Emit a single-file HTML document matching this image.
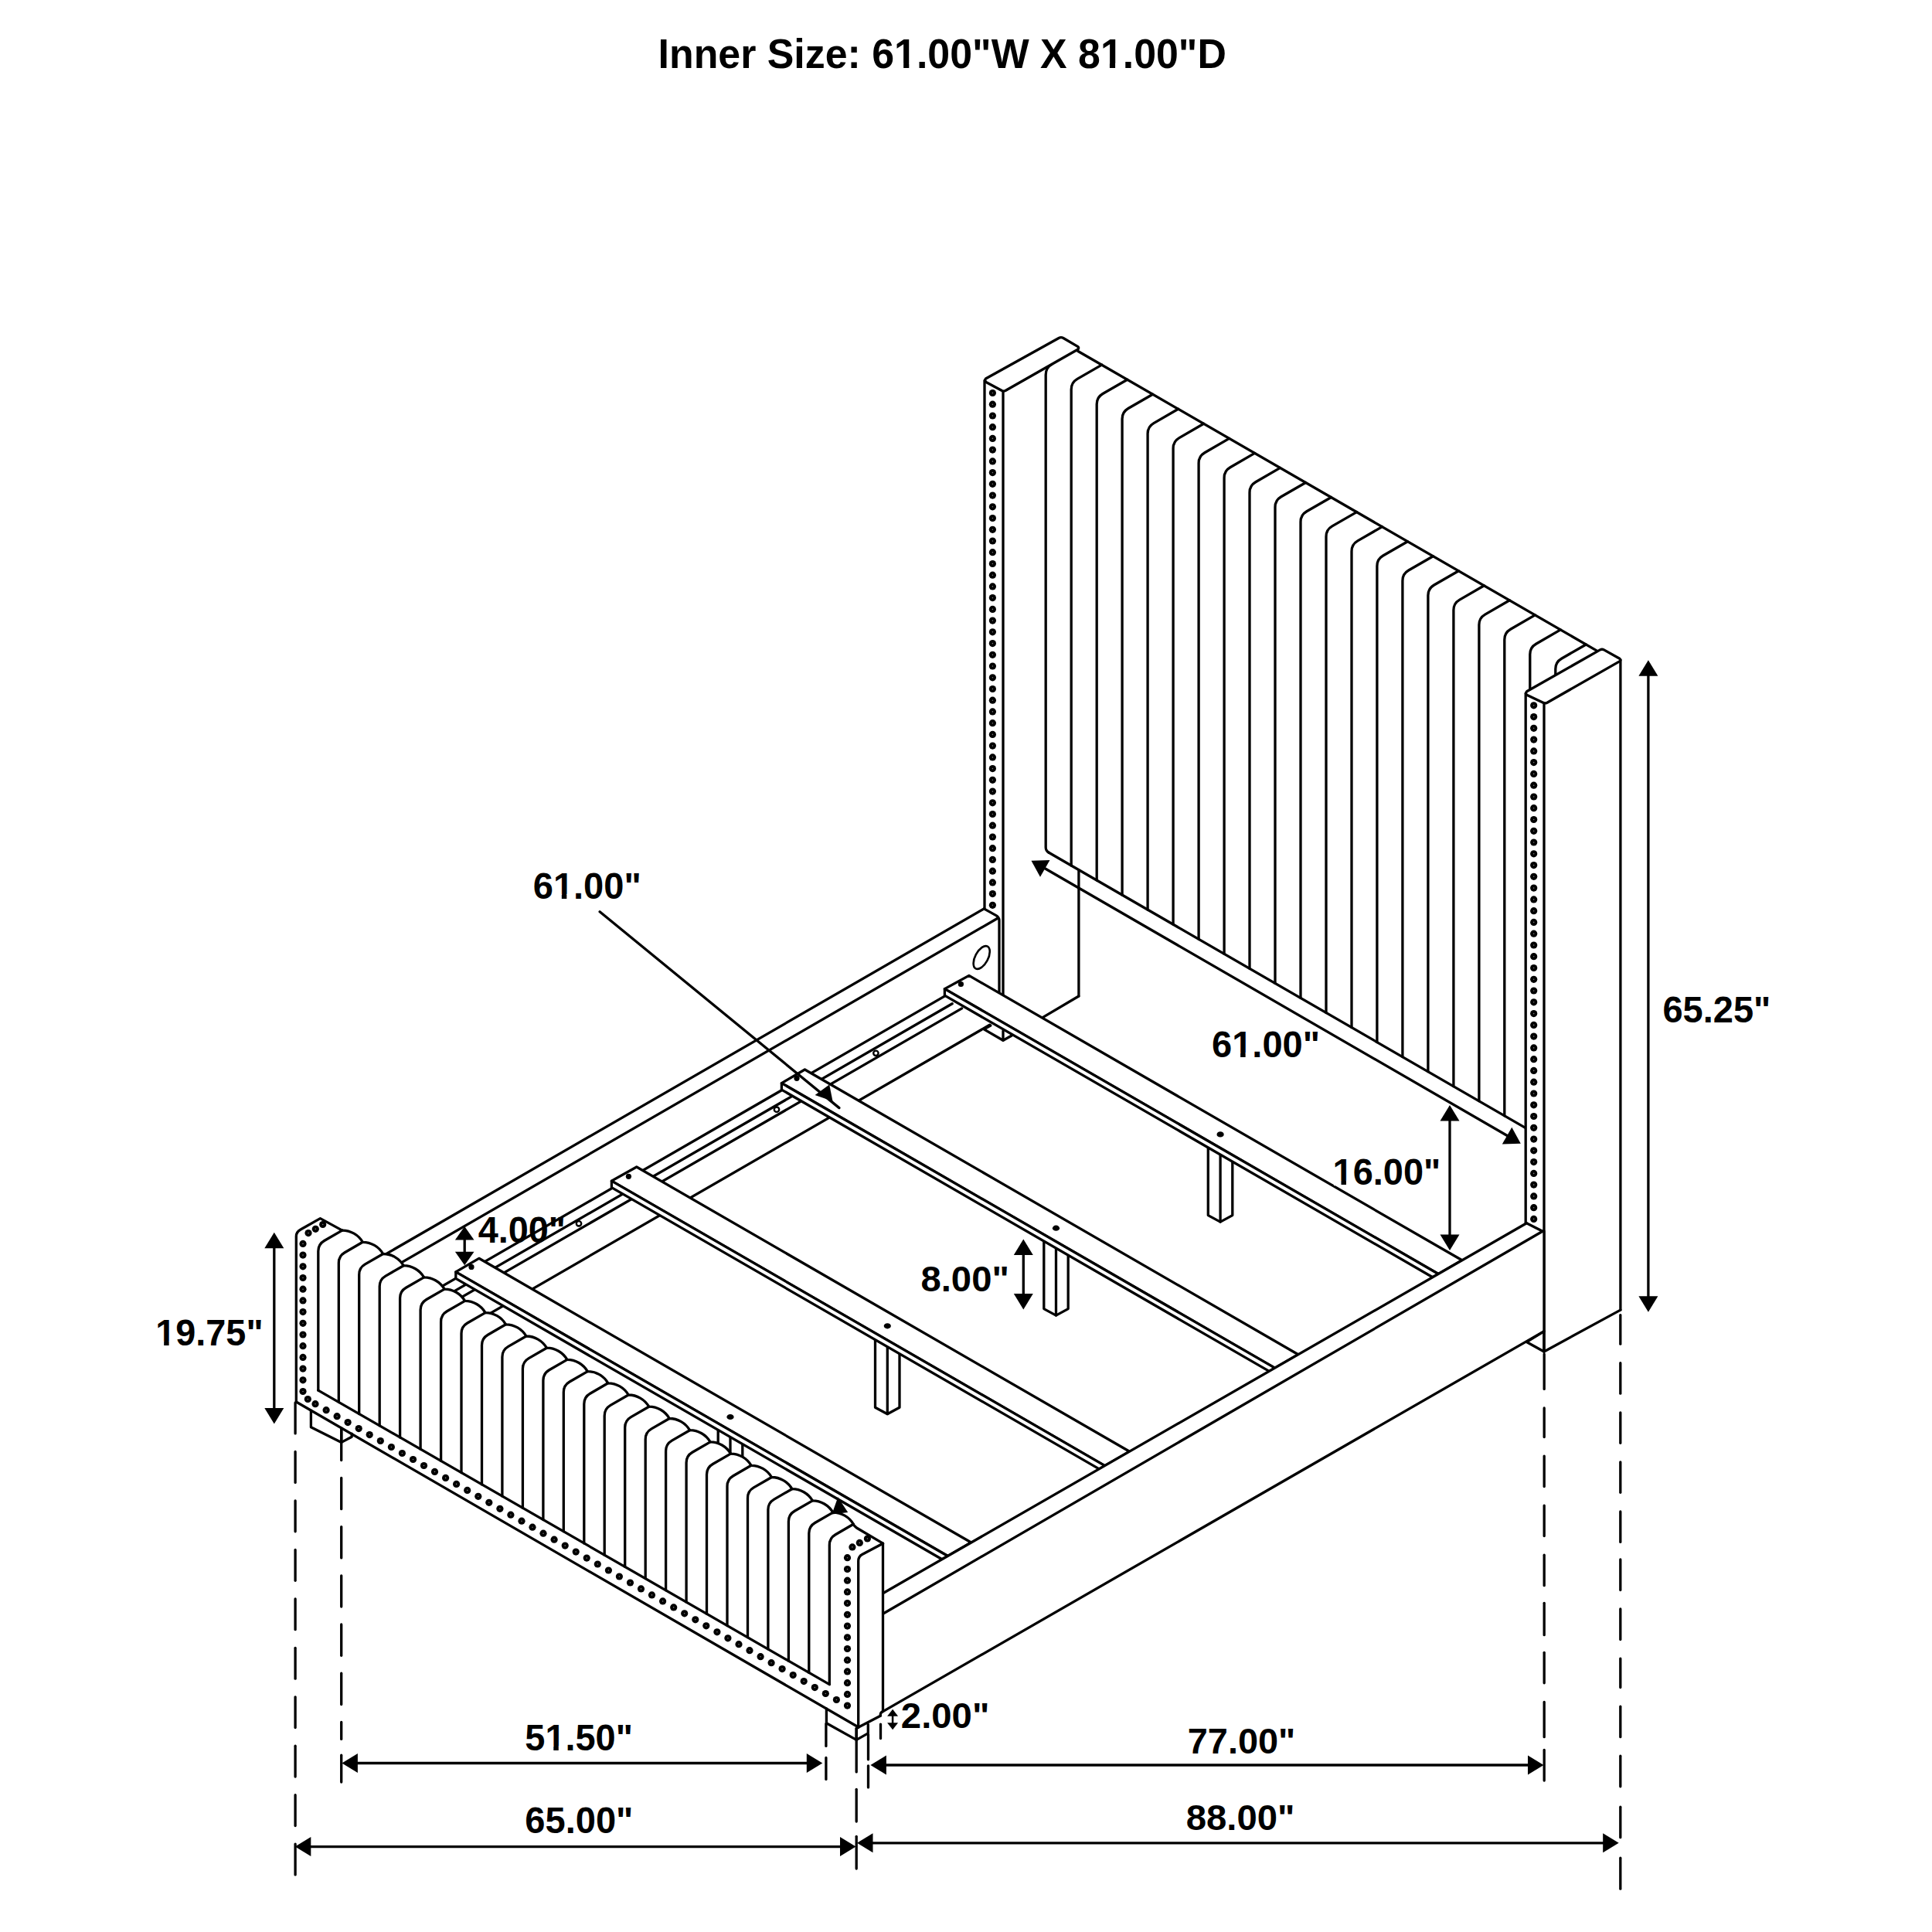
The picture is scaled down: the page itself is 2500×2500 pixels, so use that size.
<!DOCTYPE html>
<html><head><meta charset="utf-8"><style>
html,body{margin:0;padding:0;background:#fff;}
svg{display:block;}
text{font-family:"Liberation Sans",sans-serif;font-weight:bold;fill:#000;}
</style></head><body>
<svg xmlns="http://www.w3.org/2000/svg" width="2500" height="2500" viewBox="0 0 2500 2500">
<rect width="2500" height="2500" fill="#fff"/>
<g fill="none" stroke="#000" stroke-width="3.3" stroke-linecap="round" stroke-linejoin="round">
<path d="M1357.2,1103.3 Q1353.2,1101 1353.2,1096.5 V484.9 Q1353.2,475.9 1361,471.4" fill="none"/>
<path d="M1386.2,1120 V503.9 Q1386.2,494.9 1394,490.4 L1425.7,472.1" fill="none"/>
<path d="M1419.2,1139.1 V523 Q1419.2,514 1427,509.5 L1458.7,491.2" fill="none"/>
<path d="M1452.1,1158.1 V542 Q1452.1,533 1459.9,528.5 L1491.6,510.2" fill="none"/>
<path d="M1485.1,1177.2 V561.1 Q1485.1,552.1 1492.9,547.6 L1524.6,529.3" fill="none"/>
<path d="M1518.1,1196.2 V580.1 Q1518.1,571.1 1525.9,566.6 L1557.6,548.3" fill="none"/>
<path d="M1551.1,1215.3 V599.2 Q1551.1,590.2 1558.9,585.7 L1590.6,567.4" fill="none"/>
<path d="M1584.1,1234.3 V618.2 Q1584.1,609.2 1591.9,604.7 L1623.6,586.4" fill="none"/>
<path d="M1617,1253.3 V637.2 Q1617,628.2 1624.8,623.7 L1656.5,605.4" fill="none"/>
<path d="M1650,1272.4 V656.3 Q1650,647.3 1657.8,642.8 L1689.5,624.5" fill="none"/>
<path d="M1683,1291.4 V675.3 Q1683,666.3 1690.8,661.8 L1722.5,643.5" fill="none"/>
<path d="M1716,1310.5 V694.4 Q1716,685.4 1723.8,680.9 L1755.5,662.6" fill="none"/>
<path d="M1749,1329.5 V713.4 Q1749,704.4 1756.8,699.9 L1788.5,681.6" fill="none"/>
<path d="M1781.9,1348.6 V732.5 Q1781.9,723.5 1789.7,719 L1821.4,700.7" fill="none"/>
<path d="M1814.9,1367.6 V751.5 Q1814.9,742.5 1822.7,738 L1854.4,719.7" fill="none"/>
<path d="M1847.9,1386.6 V770.5 Q1847.9,761.5 1855.7,757 L1887.4,738.7" fill="none"/>
<path d="M1880.9,1405.7 V789.6 Q1880.9,780.6 1888.7,776.1 L1920.4,757.8" fill="none"/>
<path d="M1913.9,1424.7 V808.6 Q1913.9,799.6 1921.7,795.1 L1953.4,776.8" fill="none"/>
<path d="M1946.8,1443.8 V827.7 Q1946.8,818.7 1954.6,814.2 L1986.3,795.9" fill="none"/>
<path d="M1979.8,1462.8 V846.7 Q1979.8,837.7 1987.6,833.2 L2019.3,814.9" fill="none"/>
<path d="M2012.8,1481.9 V865.7 Q2012.8,856.7 2020.6,852.2 L2052.3,834" fill="none"/>
<line x1="1394.6" y1="454.2" x2="2066" y2="841.9"/>
<line x1="1357.2" y1="1103.3" x2="1974.2" y2="1459.6"/>
<line x1="1298" y1="506.4" x2="1298" y2="1287"/>
<line x1="1395.9" y1="1125.7" x2="1395.9" y2="1289"/>
<line x1="1395.9" y1="1289" x2="1349.6" y2="1316.4"/>
<path d="M1275.5,490 L1370,437.5 Q1373,435.8 1376,437.5 L1394.5,448.3 Q1396.5,449.8 1395,452 L1301,505.5 Q1298.8,506.6 1296.5,505.5 L1276,494.5 Q1273.5,492.3 1275.5,490 Z" fill="#fff"/>
<line x1="1274" y1="492.5" x2="1274" y2="1176"/>
<circle cx="1284.4" cy="508.5" r="4.6" fill="#000" stroke="none"/>
<circle cx="1284.4" cy="508.5" r="0.8" fill="#777" stroke="none"/>
<circle cx="1284.4" cy="523.2" r="4.6" fill="#000" stroke="none"/>
<circle cx="1284.4" cy="523.2" r="0.8" fill="#777" stroke="none"/>
<circle cx="1284.4" cy="538" r="4.6" fill="#000" stroke="none"/>
<circle cx="1284.4" cy="538" r="0.8" fill="#777" stroke="none"/>
<circle cx="1284.4" cy="552.7" r="4.6" fill="#000" stroke="none"/>
<circle cx="1284.4" cy="552.7" r="0.8" fill="#777" stroke="none"/>
<circle cx="1284.4" cy="567.4" r="4.6" fill="#000" stroke="none"/>
<circle cx="1284.4" cy="567.4" r="0.8" fill="#777" stroke="none"/>
<circle cx="1284.4" cy="582.1" r="4.6" fill="#000" stroke="none"/>
<circle cx="1284.4" cy="582.1" r="0.8" fill="#777" stroke="none"/>
<circle cx="1284.4" cy="596.9" r="4.6" fill="#000" stroke="none"/>
<circle cx="1284.4" cy="596.9" r="0.8" fill="#777" stroke="none"/>
<circle cx="1284.4" cy="611.6" r="4.6" fill="#000" stroke="none"/>
<circle cx="1284.4" cy="611.6" r="0.8" fill="#777" stroke="none"/>
<circle cx="1284.4" cy="626.3" r="4.6" fill="#000" stroke="none"/>
<circle cx="1284.4" cy="626.3" r="0.8" fill="#777" stroke="none"/>
<circle cx="1284.4" cy="641.1" r="4.6" fill="#000" stroke="none"/>
<circle cx="1284.4" cy="641.1" r="0.8" fill="#777" stroke="none"/>
<circle cx="1284.4" cy="655.8" r="4.6" fill="#000" stroke="none"/>
<circle cx="1284.4" cy="655.8" r="0.8" fill="#777" stroke="none"/>
<circle cx="1284.4" cy="670.5" r="4.6" fill="#000" stroke="none"/>
<circle cx="1284.4" cy="670.5" r="0.8" fill="#777" stroke="none"/>
<circle cx="1284.4" cy="685.3" r="4.6" fill="#000" stroke="none"/>
<circle cx="1284.4" cy="685.3" r="0.8" fill="#777" stroke="none"/>
<circle cx="1284.4" cy="700" r="4.6" fill="#000" stroke="none"/>
<circle cx="1284.4" cy="700" r="0.8" fill="#777" stroke="none"/>
<circle cx="1284.4" cy="714.7" r="4.6" fill="#000" stroke="none"/>
<circle cx="1284.4" cy="714.7" r="0.8" fill="#777" stroke="none"/>
<circle cx="1284.4" cy="729.5" r="4.6" fill="#000" stroke="none"/>
<circle cx="1284.4" cy="729.5" r="0.8" fill="#777" stroke="none"/>
<circle cx="1284.4" cy="744.2" r="4.6" fill="#000" stroke="none"/>
<circle cx="1284.4" cy="744.2" r="0.8" fill="#777" stroke="none"/>
<circle cx="1284.4" cy="758.9" r="4.6" fill="#000" stroke="none"/>
<circle cx="1284.4" cy="758.9" r="0.8" fill="#777" stroke="none"/>
<circle cx="1284.4" cy="773.6" r="4.6" fill="#000" stroke="none"/>
<circle cx="1284.4" cy="773.6" r="0.8" fill="#777" stroke="none"/>
<circle cx="1284.4" cy="788.4" r="4.6" fill="#000" stroke="none"/>
<circle cx="1284.4" cy="788.4" r="0.8" fill="#777" stroke="none"/>
<circle cx="1284.4" cy="803.1" r="4.6" fill="#000" stroke="none"/>
<circle cx="1284.4" cy="803.1" r="0.8" fill="#777" stroke="none"/>
<circle cx="1284.4" cy="817.8" r="4.6" fill="#000" stroke="none"/>
<circle cx="1284.4" cy="817.8" r="0.8" fill="#777" stroke="none"/>
<circle cx="1284.4" cy="832.6" r="4.6" fill="#000" stroke="none"/>
<circle cx="1284.4" cy="832.6" r="0.8" fill="#777" stroke="none"/>
<circle cx="1284.4" cy="847.3" r="4.6" fill="#000" stroke="none"/>
<circle cx="1284.4" cy="847.3" r="0.8" fill="#777" stroke="none"/>
<circle cx="1284.4" cy="862" r="4.6" fill="#000" stroke="none"/>
<circle cx="1284.4" cy="862" r="0.8" fill="#777" stroke="none"/>
<circle cx="1284.4" cy="876.8" r="4.6" fill="#000" stroke="none"/>
<circle cx="1284.4" cy="876.8" r="0.8" fill="#777" stroke="none"/>
<circle cx="1284.4" cy="891.5" r="4.6" fill="#000" stroke="none"/>
<circle cx="1284.4" cy="891.5" r="0.8" fill="#777" stroke="none"/>
<circle cx="1284.4" cy="906.2" r="4.6" fill="#000" stroke="none"/>
<circle cx="1284.4" cy="906.2" r="0.8" fill="#777" stroke="none"/>
<circle cx="1284.4" cy="920.9" r="4.6" fill="#000" stroke="none"/>
<circle cx="1284.4" cy="920.9" r="0.8" fill="#777" stroke="none"/>
<circle cx="1284.4" cy="935.7" r="4.6" fill="#000" stroke="none"/>
<circle cx="1284.4" cy="935.7" r="0.8" fill="#777" stroke="none"/>
<circle cx="1284.4" cy="950.4" r="4.6" fill="#000" stroke="none"/>
<circle cx="1284.4" cy="950.4" r="0.8" fill="#777" stroke="none"/>
<circle cx="1284.4" cy="965.1" r="4.6" fill="#000" stroke="none"/>
<circle cx="1284.4" cy="965.1" r="0.8" fill="#777" stroke="none"/>
<circle cx="1284.4" cy="979.9" r="4.6" fill="#000" stroke="none"/>
<circle cx="1284.4" cy="979.9" r="0.8" fill="#777" stroke="none"/>
<circle cx="1284.4" cy="994.6" r="4.6" fill="#000" stroke="none"/>
<circle cx="1284.4" cy="994.6" r="0.8" fill="#777" stroke="none"/>
<circle cx="1284.4" cy="1009.3" r="4.6" fill="#000" stroke="none"/>
<circle cx="1284.4" cy="1009.3" r="0.8" fill="#777" stroke="none"/>
<circle cx="1284.4" cy="1024.1" r="4.6" fill="#000" stroke="none"/>
<circle cx="1284.4" cy="1024.1" r="0.8" fill="#777" stroke="none"/>
<circle cx="1284.4" cy="1038.8" r="4.6" fill="#000" stroke="none"/>
<circle cx="1284.4" cy="1038.8" r="0.8" fill="#777" stroke="none"/>
<circle cx="1284.4" cy="1053.5" r="4.6" fill="#000" stroke="none"/>
<circle cx="1284.4" cy="1053.5" r="0.8" fill="#777" stroke="none"/>
<circle cx="1284.4" cy="1068.2" r="4.6" fill="#000" stroke="none"/>
<circle cx="1284.4" cy="1068.2" r="0.8" fill="#777" stroke="none"/>
<circle cx="1284.4" cy="1083" r="4.6" fill="#000" stroke="none"/>
<circle cx="1284.4" cy="1083" r="0.8" fill="#777" stroke="none"/>
<circle cx="1284.4" cy="1097.7" r="4.6" fill="#000" stroke="none"/>
<circle cx="1284.4" cy="1097.7" r="0.8" fill="#777" stroke="none"/>
<circle cx="1284.4" cy="1112.4" r="4.6" fill="#000" stroke="none"/>
<circle cx="1284.4" cy="1112.4" r="0.8" fill="#777" stroke="none"/>
<circle cx="1284.4" cy="1127.2" r="4.6" fill="#000" stroke="none"/>
<circle cx="1284.4" cy="1127.2" r="0.8" fill="#777" stroke="none"/>
<circle cx="1284.4" cy="1141.9" r="4.6" fill="#000" stroke="none"/>
<circle cx="1284.4" cy="1141.9" r="0.8" fill="#777" stroke="none"/>
<circle cx="1284.4" cy="1156.6" r="4.6" fill="#000" stroke="none"/>
<circle cx="1284.4" cy="1156.6" r="0.8" fill="#777" stroke="none"/>
<circle cx="1284.4" cy="1171.3" r="4.6" fill="#000" stroke="none"/>
<circle cx="1284.4" cy="1171.3" r="0.8" fill="#777" stroke="none"/>
<polygon points="1974.2,897.3 1999.4,909.7 2096.9,853.8 2096.9,1695.1 1998,1749 1974.2,1737" fill="#fff" stroke="none"/>
<line x1="1974.2" y1="897.3" x2="1974.2" y2="1582.8"/>
<line x1="1998" y1="909.7" x2="1998" y2="1749"/>
<line x1="2096.9" y1="853.8" x2="2096.9" y2="1695.1"/>
<line x1="2096.9" y1="1695.1" x2="1998" y2="1749"/>
<path d="M1975.6,894.8 L2070.5,840.9 Q2073,839.6 2075.5,840.9 L2095.8,852.2 Q2098,854 2096,855.6 L2002,909.3 Q1999.4,910.6 1996.8,909.3 L1975.7,899.3 Q1973.4,897 1975.6,894.8 Z" fill="#fff"/>
<circle cx="1984.7" cy="912.8" r="4.6" fill="#000" stroke="none"/>
<circle cx="1984.7" cy="912.8" r="0.8" fill="#777" stroke="none"/>
<circle cx="1984.7" cy="927.6" r="4.6" fill="#000" stroke="none"/>
<circle cx="1984.7" cy="927.6" r="0.8" fill="#777" stroke="none"/>
<circle cx="1984.7" cy="942.3" r="4.6" fill="#000" stroke="none"/>
<circle cx="1984.7" cy="942.3" r="0.8" fill="#777" stroke="none"/>
<circle cx="1984.7" cy="957.1" r="4.6" fill="#000" stroke="none"/>
<circle cx="1984.7" cy="957.1" r="0.8" fill="#777" stroke="none"/>
<circle cx="1984.7" cy="971.9" r="4.6" fill="#000" stroke="none"/>
<circle cx="1984.7" cy="971.9" r="0.8" fill="#777" stroke="none"/>
<circle cx="1984.7" cy="986.6" r="4.6" fill="#000" stroke="none"/>
<circle cx="1984.7" cy="986.6" r="0.8" fill="#777" stroke="none"/>
<circle cx="1984.7" cy="1001.4" r="4.6" fill="#000" stroke="none"/>
<circle cx="1984.7" cy="1001.4" r="0.8" fill="#777" stroke="none"/>
<circle cx="1984.7" cy="1016.2" r="4.6" fill="#000" stroke="none"/>
<circle cx="1984.7" cy="1016.2" r="0.8" fill="#777" stroke="none"/>
<circle cx="1984.7" cy="1031" r="4.6" fill="#000" stroke="none"/>
<circle cx="1984.7" cy="1031" r="0.8" fill="#777" stroke="none"/>
<circle cx="1984.7" cy="1045.7" r="4.6" fill="#000" stroke="none"/>
<circle cx="1984.7" cy="1045.7" r="0.8" fill="#777" stroke="none"/>
<circle cx="1984.7" cy="1060.5" r="4.6" fill="#000" stroke="none"/>
<circle cx="1984.7" cy="1060.5" r="0.8" fill="#777" stroke="none"/>
<circle cx="1984.7" cy="1075.3" r="4.6" fill="#000" stroke="none"/>
<circle cx="1984.7" cy="1075.3" r="0.8" fill="#777" stroke="none"/>
<circle cx="1984.7" cy="1090" r="4.6" fill="#000" stroke="none"/>
<circle cx="1984.7" cy="1090" r="0.8" fill="#777" stroke="none"/>
<circle cx="1984.7" cy="1104.8" r="4.6" fill="#000" stroke="none"/>
<circle cx="1984.7" cy="1104.8" r="0.8" fill="#777" stroke="none"/>
<circle cx="1984.7" cy="1119.6" r="4.6" fill="#000" stroke="none"/>
<circle cx="1984.7" cy="1119.6" r="0.8" fill="#777" stroke="none"/>
<circle cx="1984.7" cy="1134.3" r="4.6" fill="#000" stroke="none"/>
<circle cx="1984.7" cy="1134.3" r="0.8" fill="#777" stroke="none"/>
<circle cx="1984.7" cy="1149.1" r="4.6" fill="#000" stroke="none"/>
<circle cx="1984.7" cy="1149.1" r="0.8" fill="#777" stroke="none"/>
<circle cx="1984.7" cy="1163.9" r="4.6" fill="#000" stroke="none"/>
<circle cx="1984.7" cy="1163.9" r="0.8" fill="#777" stroke="none"/>
<circle cx="1984.7" cy="1178.7" r="4.6" fill="#000" stroke="none"/>
<circle cx="1984.7" cy="1178.7" r="0.8" fill="#777" stroke="none"/>
<circle cx="1984.7" cy="1193.4" r="4.6" fill="#000" stroke="none"/>
<circle cx="1984.7" cy="1193.4" r="0.8" fill="#777" stroke="none"/>
<circle cx="1984.7" cy="1208.2" r="4.6" fill="#000" stroke="none"/>
<circle cx="1984.7" cy="1208.2" r="0.8" fill="#777" stroke="none"/>
<circle cx="1984.7" cy="1223" r="4.6" fill="#000" stroke="none"/>
<circle cx="1984.7" cy="1223" r="0.8" fill="#777" stroke="none"/>
<circle cx="1984.7" cy="1237.7" r="4.6" fill="#000" stroke="none"/>
<circle cx="1984.7" cy="1237.7" r="0.8" fill="#777" stroke="none"/>
<circle cx="1984.7" cy="1252.5" r="4.6" fill="#000" stroke="none"/>
<circle cx="1984.7" cy="1252.5" r="0.8" fill="#777" stroke="none"/>
<circle cx="1984.7" cy="1267.3" r="4.6" fill="#000" stroke="none"/>
<circle cx="1984.7" cy="1267.3" r="0.8" fill="#777" stroke="none"/>
<circle cx="1984.7" cy="1282" r="4.6" fill="#000" stroke="none"/>
<circle cx="1984.7" cy="1282" r="0.8" fill="#777" stroke="none"/>
<circle cx="1984.7" cy="1296.8" r="4.6" fill="#000" stroke="none"/>
<circle cx="1984.7" cy="1296.8" r="0.8" fill="#777" stroke="none"/>
<circle cx="1984.7" cy="1311.6" r="4.6" fill="#000" stroke="none"/>
<circle cx="1984.7" cy="1311.6" r="0.8" fill="#777" stroke="none"/>
<circle cx="1984.7" cy="1326.4" r="4.6" fill="#000" stroke="none"/>
<circle cx="1984.7" cy="1326.4" r="0.8" fill="#777" stroke="none"/>
<circle cx="1984.7" cy="1341.1" r="4.6" fill="#000" stroke="none"/>
<circle cx="1984.7" cy="1341.1" r="0.8" fill="#777" stroke="none"/>
<circle cx="1984.7" cy="1355.9" r="4.6" fill="#000" stroke="none"/>
<circle cx="1984.7" cy="1355.9" r="0.8" fill="#777" stroke="none"/>
<circle cx="1984.7" cy="1370.7" r="4.6" fill="#000" stroke="none"/>
<circle cx="1984.7" cy="1370.7" r="0.8" fill="#777" stroke="none"/>
<circle cx="1984.7" cy="1385.4" r="4.6" fill="#000" stroke="none"/>
<circle cx="1984.7" cy="1385.4" r="0.8" fill="#777" stroke="none"/>
<circle cx="1984.7" cy="1400.2" r="4.6" fill="#000" stroke="none"/>
<circle cx="1984.7" cy="1400.2" r="0.8" fill="#777" stroke="none"/>
<circle cx="1984.7" cy="1415" r="4.6" fill="#000" stroke="none"/>
<circle cx="1984.7" cy="1415" r="0.8" fill="#777" stroke="none"/>
<circle cx="1984.7" cy="1429.8" r="4.6" fill="#000" stroke="none"/>
<circle cx="1984.7" cy="1429.8" r="0.8" fill="#777" stroke="none"/>
<circle cx="1984.7" cy="1444.5" r="4.6" fill="#000" stroke="none"/>
<circle cx="1984.7" cy="1444.5" r="0.8" fill="#777" stroke="none"/>
<circle cx="1984.7" cy="1459.3" r="4.6" fill="#000" stroke="none"/>
<circle cx="1984.7" cy="1459.3" r="0.8" fill="#777" stroke="none"/>
<circle cx="1984.7" cy="1474.1" r="4.6" fill="#000" stroke="none"/>
<circle cx="1984.7" cy="1474.1" r="0.8" fill="#777" stroke="none"/>
<circle cx="1984.7" cy="1488.8" r="4.6" fill="#000" stroke="none"/>
<circle cx="1984.7" cy="1488.8" r="0.8" fill="#777" stroke="none"/>
<circle cx="1984.7" cy="1503.6" r="4.6" fill="#000" stroke="none"/>
<circle cx="1984.7" cy="1503.6" r="0.8" fill="#777" stroke="none"/>
<circle cx="1984.7" cy="1518.4" r="4.6" fill="#000" stroke="none"/>
<circle cx="1984.7" cy="1518.4" r="0.8" fill="#777" stroke="none"/>
<circle cx="1984.7" cy="1533.1" r="4.6" fill="#000" stroke="none"/>
<circle cx="1984.7" cy="1533.1" r="0.8" fill="#777" stroke="none"/>
<circle cx="1984.7" cy="1547.9" r="4.6" fill="#000" stroke="none"/>
<circle cx="1984.7" cy="1547.9" r="0.8" fill="#777" stroke="none"/>
<circle cx="1984.7" cy="1562.7" r="4.6" fill="#000" stroke="none"/>
<circle cx="1984.7" cy="1562.7" r="0.8" fill="#777" stroke="none"/>
<circle cx="1984.7" cy="1577.4" r="4.6" fill="#000" stroke="none"/>
<circle cx="1984.7" cy="1577.4" r="0.8" fill="#777" stroke="none"/>
<line x1="1350" y1="1122.5" x2="1952" y2="1470.5"/>
<polygon points="1334.5,1113.7 1358.5,1113.1 1346,1134.8" fill="#000" stroke="none"/>
<polygon points="1967.8,1479.8 1943.8,1480.4 1956.3,1458.7" fill="#000" stroke="none"/>
<line x1="1273.3" y1="1175.9" x2="470" y2="1639.7"/>
<line x1="1290.9" y1="1188.3" x2="470" y2="1662.3"/>
<path d="M1273.3,1175.9 L1289,1184.6 Q1293,1187 1293,1191 V1284.6" fill="none"/>
<ellipse cx="1270.2" cy="1239" rx="8.3" ry="16.2" transform="rotate(28 1270.2 1239)" fill="none" stroke-width="2.6"/>
<text transform="translate(618.66,1608.0) scale(0.9359,0.9457)" font-size="50" fill="#000" stroke="none">4.00"</text>
<line x1="470" y1="1723.4" x2="1222.2" y2="1289.1"/>
<line x1="470" y1="1738.9" x2="1232.2" y2="1298.8"/>
<line x1="470" y1="1752.1" x2="1244.6" y2="1304.9"/>
<line x1="470" y1="1794.3" x2="1280.6" y2="1326.3"/>
<circle cx="1133.4" cy="1362.8" r="3.2" fill="none" stroke-width="2.4"/>
<circle cx="1005.0" cy="1435.7" r="3.2" fill="none" stroke-width="2.4"/>
<circle cx="749.0" cy="1583.3" r="3.2" fill="none" stroke-width="2.4"/>
<polyline points="1281.9,1327 1273.2,1331.9 1298,1346.2 1309.2,1340"/>
<line x1="1298" y1="1334" x2="1298" y2="1346.2"/>
<polygon points="1563.3,1481 1563.3,1572.6 1579.1,1581.1 1594.8,1572.6 1594.8,1499.2" fill="#fff"/>
<line x1="1579.1" y1="1494.1" x2="1579.1" y2="1581.1"/>
<polygon points="1350.8,1602 1350.8,1693.6 1366.5,1702.1 1382.2,1693.6 1382.2,1620.2" fill="#fff"/>
<line x1="1366.5" y1="1615.1" x2="1366.5" y2="1702.1"/>
<polygon points="1132.5,1729.6 1132.5,1821.2 1148.3,1829.7 1164,1821.2 1164,1747.8" fill="#fff"/>
<line x1="1148.3" y1="1742.7" x2="1148.3" y2="1829.7"/>
<polygon points="929.2,1846.4 929.2,1938 945,1946.5 960.8,1938 960.8,1864.6" fill="#fff"/>
<line x1="945" y1="1859.5" x2="945" y2="1946.5"/>
<polygon points="1222.4,1279.6 1253.9,1262.4 1891.9,1630.8 1861.2,1648.5" fill="#fff"/>
<polygon points="1222.4,1279.6 1861.2,1648.5 1853.8,1652.7 1222.4,1288.1" fill="#fff"/>
<ellipse cx="1579.1" cy="1467.9" rx="4.6" ry="3.6" fill="#000" stroke="none"/>
<circle cx="1243.4" cy="1273.5" r="3.6" fill="#000" stroke="none"/>
<polygon points="1011.4,1401.6 1041.4,1384 1679.9,1752.7 1649.6,1770.1" fill="#fff"/>
<polygon points="1011.4,1401.6 1649.6,1770.1 1642.3,1774.4 1011.4,1410.1" fill="#fff"/>
<ellipse cx="1366.5" cy="1589.2" rx="4.6" ry="3.6" fill="#000" stroke="none"/>
<circle cx="1031" cy="1395.3" r="3.6" fill="#000" stroke="none"/>
<polygon points="791.4,1528.1 823.8,1510 1461.6,1878.3 1429.6,1896.6" fill="#fff"/>
<polygon points="791.4,1528.1 1429.6,1896.6 1422.3,1900.9 791.4,1536.6" fill="#fff"/>
<ellipse cx="1148.3" cy="1715.8" rx="4.6" ry="3.6" fill="#000" stroke="none"/>
<circle cx="813.4" cy="1522.3" r="3.6" fill="#000" stroke="none"/>
<polygon points="589.8,1645.9 619.8,1628.3 1256.7,1996 1226.4,2013.5" fill="#fff"/>
<polygon points="589.8,1645.9 1226.4,2013.5 1219,2017.7 589.8,1654.4" fill="#fff"/>
<ellipse cx="945" cy="1833.5" rx="4.6" ry="3.6" fill="#000" stroke="none"/>
<circle cx="610" cy="1639.4" r="3.6" fill="#000" stroke="none"/>
<polygon points="1975.4,1582.8 1996.1,1593.2 1998.1,1593.2 1998.1,1722.6 1142.5,2214.6 1142.5,2061.7" fill="#fff" stroke="none"/>
<line x1="1975.4" y1="1582.8" x2="1142.5" y2="2061.7"/>
<line x1="1996.1" y1="1593.2" x2="1142.5" y2="2088.3"/>
<line x1="1998.1" y1="1722.6" x2="1142.5" y2="2214.6"/>
<line x1="1975.4" y1="1582.8" x2="1996.1" y2="1593.2"/>
<line x1="1998" y1="1593" x2="1998" y2="1749"/>
<polyline points="1998.1,1722.6 1975.4,1736.5 1998,1749"/>
<path d="M383.3,1814 V1600 Q383.3,1594 389,1591 L414.4,1576.6 L442.8,1592.1 A30.6,30.6 0 0 1 469.3,1607.3 A30.6,30.6 0 0 1 495.7,1622.5 A30.6,30.6 0 0 1 522.2,1637.7 A30.6,30.6 0 0 1 548.6,1652.9 A30.6,30.6 0 0 1 575.1,1668.1 A30.6,30.6 0 0 1 601.6,1683.4 A30.6,30.6 0 0 1 628,1698.6 A30.6,30.6 0 0 1 654.5,1713.8 A30.6,30.6 0 0 1 680.9,1729 A30.6,30.6 0 0 1 707.4,1744.2 A30.6,30.6 0 0 1 733.9,1759.4 A30.6,30.6 0 0 1 760.3,1774.6 A30.6,30.6 0 0 1 786.8,1789.8 A30.6,30.6 0 0 1 813.2,1805 A30.6,30.6 0 0 1 839.7,1820.2 A30.6,30.6 0 0 1 866.2,1835.5 A30.6,30.6 0 0 1 892.6,1850.7 A30.6,30.6 0 0 1 919.1,1865.9 A30.6,30.6 0 0 1 945.5,1881.1 A30.6,30.6 0 0 1 972,1896.3 A30.6,30.6 0 0 1 998.5,1911.5 A30.6,30.6 0 0 1 1024.9,1926.7 A30.6,30.6 0 0 1 1051.4,1941.9 A30.6,30.6 0 0 1 1077.8,1957.1 A30.6,30.6 0 0 1 1104.3,1972.3 Q1104.5,1973.8 1108.4,1977 L1142.5,1997.2 V2219.6 L1110,2235.5 Z" fill="#fff" stroke="none"/>
<path d="M383.3,1814 V1600 Q383.3,1594 389,1591 L414.4,1576.6 L442.8,1592.1" fill="none"/>
<path d="M442.8,1592.1 A30.6,30.6 0 0 1 469.3,1607.3 A30.6,30.6 0 0 1 495.7,1622.5 A30.6,30.6 0 0 1 522.2,1637.7 A30.6,30.6 0 0 1 548.6,1652.9 A30.6,30.6 0 0 1 575.1,1668.1 A30.6,30.6 0 0 1 601.6,1683.4 A30.6,30.6 0 0 1 628,1698.6 A30.6,30.6 0 0 1 654.5,1713.8 A30.6,30.6 0 0 1 680.9,1729 A30.6,30.6 0 0 1 707.4,1744.2 A30.6,30.6 0 0 1 733.9,1759.4 A30.6,30.6 0 0 1 760.3,1774.6 A30.6,30.6 0 0 1 786.8,1789.8 A30.6,30.6 0 0 1 813.2,1805 A30.6,30.6 0 0 1 839.7,1820.2 A30.6,30.6 0 0 1 866.2,1835.5 A30.6,30.6 0 0 1 892.6,1850.7 A30.6,30.6 0 0 1 919.1,1865.9 A30.6,30.6 0 0 1 945.5,1881.1 A30.6,30.6 0 0 1 972,1896.3 A30.6,30.6 0 0 1 998.5,1911.5 A30.6,30.6 0 0 1 1024.9,1926.7 A30.6,30.6 0 0 1 1051.4,1941.9 A30.6,30.6 0 0 1 1077.8,1957.1 A30.6,30.6 0 0 1 1104.3,1972.3 Q1104.5,1973.8 1108.4,1977 L1142.5,1997.2" fill="none"/>
<line x1="383.3" y1="1814" x2="1110" y2="2234.5"/>
<line x1="1142.5" y1="1997.2" x2="1142.5" y2="2214.6"/>
<path d="M1142.5,2214.6 Q1139.3,2216.1 1139.3,2218.6 V2220.3" fill="none"/>
<line x1="1110" y1="2235.5" x2="1139.3" y2="2220.3"/>
<path d="M1142.5,1997.2 L1116,2011.2 Q1110.7,2014 1110.7,2020 V2235.5" fill="none"/>
<path d="M411.8,1799.1 V1619 Q411.8,1610 419.6,1605.5 L442.8,1592.1" fill="none"/>
<path d="M438.3,1814.3 V1634.2 Q438.3,1625.2 446.1,1620.7 L469.3,1607.3" fill="none"/>
<path d="M464.7,1829.5 V1649.4 Q464.7,1640.4 472.5,1635.9 L495.7,1622.5" fill="none"/>
<path d="M491.2,1844.8 V1664.6 Q491.2,1655.6 499,1651.1 L522.2,1637.7" fill="none"/>
<path d="M517.6,1860 V1679.8 Q517.6,1670.8 525.4,1666.3 L548.6,1652.9" fill="none"/>
<path d="M544.1,1875.2 V1695 Q544.1,1686 551.9,1681.5 L575.1,1668.1" fill="none"/>
<path d="M570.6,1890.4 V1710.3 Q570.6,1701.3 578.4,1696.8 L601.6,1683.4" fill="none"/>
<path d="M597,1905.6 V1725.5 Q597,1716.5 604.8,1712 L628,1698.6" fill="none"/>
<path d="M623.5,1920.9 V1740.7 Q623.5,1731.7 631.3,1727.2 L654.5,1713.8" fill="none"/>
<path d="M649.9,1936.1 V1755.9 Q649.9,1746.9 657.7,1742.4 L680.9,1729" fill="none"/>
<path d="M676.4,1951.3 V1771.1 Q676.4,1762.1 684.2,1757.6 L707.4,1744.2" fill="none"/>
<path d="M702.9,1966.5 V1786.3 Q702.9,1777.3 710.7,1772.8 L733.9,1759.4" fill="none"/>
<path d="M729.3,1981.7 V1801.5 Q729.3,1792.5 737.1,1788 L760.3,1774.6" fill="none"/>
<path d="M755.8,1997 V1816.7 Q755.8,1807.7 763.6,1803.2 L786.8,1789.8" fill="none"/>
<path d="M782.2,2012.2 V1831.9 Q782.2,1822.9 790,1818.4 L813.2,1805" fill="none"/>
<path d="M808.7,2027.4 V1847.1 Q808.7,1838.1 816.5,1833.6 L839.7,1820.2" fill="none"/>
<path d="M835.2,2042.6 V1862.4 Q835.2,1853.4 843,1848.9 L866.2,1835.5" fill="none"/>
<path d="M861.6,2057.8 V1877.6 Q861.6,1868.6 869.4,1864.1 L892.6,1850.7" fill="none"/>
<path d="M888.1,2073.1 V1892.8 Q888.1,1883.8 895.9,1879.3 L919.1,1865.9" fill="none"/>
<path d="M914.5,2088.3 V1908 Q914.5,1899 922.3,1894.5 L945.5,1881.1" fill="none"/>
<path d="M941,2103.5 V1923.2 Q941,1914.2 948.8,1909.7 L972,1896.3" fill="none"/>
<path d="M967.5,2118.7 V1938.4 Q967.5,1929.4 975.3,1924.9 L998.5,1911.5" fill="none"/>
<path d="M993.9,2133.9 V1953.6 Q993.9,1944.6 1001.7,1940.1 L1024.9,1926.7" fill="none"/>
<path d="M1020.4,2149.2 V1968.8 Q1020.4,1959.8 1028.2,1955.3 L1051.4,1941.9" fill="none"/>
<path d="M1046.8,2164.4 V1984 Q1046.8,1975 1054.6,1970.5 L1077.8,1957.1" fill="none"/>
<path d="M1073.3,2179.6 V1999.2 Q1073.3,1990.2 1081.1,1985.7 L1104.3,1972.3" fill="none"/>
<line x1="411.8" y1="1799.1" x2="1073.3" y2="2179.6"/>
<circle cx="392" cy="1609.4" r="4.6" fill="#000" stroke="none"/>
<circle cx="392" cy="1609.4" r="0.8" fill="#777" stroke="none"/>
<circle cx="392" cy="1624.1" r="4.6" fill="#000" stroke="none"/>
<circle cx="392" cy="1624.1" r="0.8" fill="#777" stroke="none"/>
<circle cx="392" cy="1638.8" r="4.6" fill="#000" stroke="none"/>
<circle cx="392" cy="1638.8" r="0.8" fill="#777" stroke="none"/>
<circle cx="392" cy="1653.5" r="4.6" fill="#000" stroke="none"/>
<circle cx="392" cy="1653.5" r="0.8" fill="#777" stroke="none"/>
<circle cx="392" cy="1668.2" r="4.6" fill="#000" stroke="none"/>
<circle cx="392" cy="1668.2" r="0.8" fill="#777" stroke="none"/>
<circle cx="392" cy="1682.9" r="4.6" fill="#000" stroke="none"/>
<circle cx="392" cy="1682.9" r="0.8" fill="#777" stroke="none"/>
<circle cx="392" cy="1697.6" r="4.6" fill="#000" stroke="none"/>
<circle cx="392" cy="1697.6" r="0.8" fill="#777" stroke="none"/>
<circle cx="392" cy="1712.3" r="4.6" fill="#000" stroke="none"/>
<circle cx="392" cy="1712.3" r="0.8" fill="#777" stroke="none"/>
<circle cx="392" cy="1727" r="4.6" fill="#000" stroke="none"/>
<circle cx="392" cy="1727" r="0.8" fill="#777" stroke="none"/>
<circle cx="392" cy="1741.7" r="4.6" fill="#000" stroke="none"/>
<circle cx="392" cy="1741.7" r="0.8" fill="#777" stroke="none"/>
<circle cx="392" cy="1756.4" r="4.6" fill="#000" stroke="none"/>
<circle cx="392" cy="1756.4" r="0.8" fill="#777" stroke="none"/>
<circle cx="392" cy="1771.1" r="4.6" fill="#000" stroke="none"/>
<circle cx="392" cy="1771.1" r="0.8" fill="#777" stroke="none"/>
<circle cx="392" cy="1785.8" r="4.6" fill="#000" stroke="none"/>
<circle cx="392" cy="1785.8" r="0.8" fill="#777" stroke="none"/>
<circle cx="392" cy="1800.5" r="4.6" fill="#000" stroke="none"/>
<circle cx="392" cy="1800.5" r="0.8" fill="#777" stroke="none"/>
<circle cx="398.3" cy="1810.5" r="4.6" fill="#000" stroke="none"/>
<circle cx="398.3" cy="1810.5" r="0.8" fill="#777" stroke="none"/>
<circle cx="408" cy="1816.7" r="4.6" fill="#000" stroke="none"/>
<circle cx="408" cy="1816.7" r="0.8" fill="#777" stroke="none"/>
<circle cx="422.1" cy="1824.7" r="4.6" fill="#000" stroke="none"/>
<circle cx="422.1" cy="1824.7" r="0.8" fill="#777" stroke="none"/>
<circle cx="436.1" cy="1832.7" r="4.6" fill="#000" stroke="none"/>
<circle cx="436.1" cy="1832.7" r="0.8" fill="#777" stroke="none"/>
<circle cx="450.1" cy="1840.6" r="4.6" fill="#000" stroke="none"/>
<circle cx="450.1" cy="1840.6" r="0.8" fill="#777" stroke="none"/>
<circle cx="464.2" cy="1848.6" r="4.6" fill="#000" stroke="none"/>
<circle cx="464.2" cy="1848.6" r="0.8" fill="#777" stroke="none"/>
<circle cx="478.2" cy="1856.6" r="4.6" fill="#000" stroke="none"/>
<circle cx="478.2" cy="1856.6" r="0.8" fill="#777" stroke="none"/>
<circle cx="492.3" cy="1864.5" r="4.6" fill="#000" stroke="none"/>
<circle cx="492.3" cy="1864.5" r="0.8" fill="#777" stroke="none"/>
<circle cx="506.4" cy="1872.5" r="4.6" fill="#000" stroke="none"/>
<circle cx="506.4" cy="1872.5" r="0.8" fill="#777" stroke="none"/>
<circle cx="520.4" cy="1880.5" r="4.6" fill="#000" stroke="none"/>
<circle cx="520.4" cy="1880.5" r="0.8" fill="#777" stroke="none"/>
<circle cx="534.5" cy="1888.5" r="4.6" fill="#000" stroke="none"/>
<circle cx="534.5" cy="1888.5" r="0.8" fill="#777" stroke="none"/>
<circle cx="548.5" cy="1896.5" r="4.6" fill="#000" stroke="none"/>
<circle cx="548.5" cy="1896.5" r="0.8" fill="#777" stroke="none"/>
<circle cx="562.5" cy="1904.4" r="4.6" fill="#000" stroke="none"/>
<circle cx="562.5" cy="1904.4" r="0.8" fill="#777" stroke="none"/>
<circle cx="576.6" cy="1912.4" r="4.6" fill="#000" stroke="none"/>
<circle cx="576.6" cy="1912.4" r="0.8" fill="#777" stroke="none"/>
<circle cx="590.6" cy="1920.4" r="4.6" fill="#000" stroke="none"/>
<circle cx="590.6" cy="1920.4" r="0.8" fill="#777" stroke="none"/>
<circle cx="604.7" cy="1928.4" r="4.6" fill="#000" stroke="none"/>
<circle cx="604.7" cy="1928.4" r="0.8" fill="#777" stroke="none"/>
<circle cx="618.8" cy="1936.3" r="4.6" fill="#000" stroke="none"/>
<circle cx="618.8" cy="1936.3" r="0.8" fill="#777" stroke="none"/>
<circle cx="632.8" cy="1944.3" r="4.6" fill="#000" stroke="none"/>
<circle cx="632.8" cy="1944.3" r="0.8" fill="#777" stroke="none"/>
<circle cx="646.9" cy="1952.3" r="4.6" fill="#000" stroke="none"/>
<circle cx="646.9" cy="1952.3" r="0.8" fill="#777" stroke="none"/>
<circle cx="660.9" cy="1960.2" r="4.6" fill="#000" stroke="none"/>
<circle cx="660.9" cy="1960.2" r="0.8" fill="#777" stroke="none"/>
<circle cx="675" cy="1968.2" r="4.6" fill="#000" stroke="none"/>
<circle cx="675" cy="1968.2" r="0.8" fill="#777" stroke="none"/>
<circle cx="689" cy="1976.2" r="4.6" fill="#000" stroke="none"/>
<circle cx="689" cy="1976.2" r="0.8" fill="#777" stroke="none"/>
<circle cx="703" cy="1984.2" r="4.6" fill="#000" stroke="none"/>
<circle cx="703" cy="1984.2" r="0.8" fill="#777" stroke="none"/>
<circle cx="717.1" cy="1992.2" r="4.6" fill="#000" stroke="none"/>
<circle cx="717.1" cy="1992.2" r="0.8" fill="#777" stroke="none"/>
<circle cx="731.2" cy="2000.1" r="4.6" fill="#000" stroke="none"/>
<circle cx="731.2" cy="2000.1" r="0.8" fill="#777" stroke="none"/>
<circle cx="745.2" cy="2008.1" r="4.6" fill="#000" stroke="none"/>
<circle cx="745.2" cy="2008.1" r="0.8" fill="#777" stroke="none"/>
<circle cx="759.2" cy="2016.1" r="4.6" fill="#000" stroke="none"/>
<circle cx="759.2" cy="2016.1" r="0.8" fill="#777" stroke="none"/>
<circle cx="773.3" cy="2024" r="4.6" fill="#000" stroke="none"/>
<circle cx="773.3" cy="2024" r="0.8" fill="#777" stroke="none"/>
<circle cx="787.4" cy="2032" r="4.6" fill="#000" stroke="none"/>
<circle cx="787.4" cy="2032" r="0.8" fill="#777" stroke="none"/>
<circle cx="801.4" cy="2040" r="4.6" fill="#000" stroke="none"/>
<circle cx="801.4" cy="2040" r="0.8" fill="#777" stroke="none"/>
<circle cx="815.5" cy="2048" r="4.6" fill="#000" stroke="none"/>
<circle cx="815.5" cy="2048" r="0.8" fill="#777" stroke="none"/>
<circle cx="829.5" cy="2055.9" r="4.6" fill="#000" stroke="none"/>
<circle cx="829.5" cy="2055.9" r="0.8" fill="#777" stroke="none"/>
<circle cx="843.5" cy="2063.9" r="4.6" fill="#000" stroke="none"/>
<circle cx="843.5" cy="2063.9" r="0.8" fill="#777" stroke="none"/>
<circle cx="857.6" cy="2071.9" r="4.6" fill="#000" stroke="none"/>
<circle cx="857.6" cy="2071.9" r="0.8" fill="#777" stroke="none"/>
<circle cx="871.7" cy="2079.9" r="4.6" fill="#000" stroke="none"/>
<circle cx="871.7" cy="2079.9" r="0.8" fill="#777" stroke="none"/>
<circle cx="885.7" cy="2087.8" r="4.6" fill="#000" stroke="none"/>
<circle cx="885.7" cy="2087.8" r="0.8" fill="#777" stroke="none"/>
<circle cx="899.8" cy="2095.8" r="4.6" fill="#000" stroke="none"/>
<circle cx="899.8" cy="2095.8" r="0.8" fill="#777" stroke="none"/>
<circle cx="913.8" cy="2103.8" r="4.6" fill="#000" stroke="none"/>
<circle cx="913.8" cy="2103.8" r="0.8" fill="#777" stroke="none"/>
<circle cx="927.9" cy="2111.8" r="4.6" fill="#000" stroke="none"/>
<circle cx="927.9" cy="2111.8" r="0.8" fill="#777" stroke="none"/>
<circle cx="941.9" cy="2119.8" r="4.6" fill="#000" stroke="none"/>
<circle cx="941.9" cy="2119.8" r="0.8" fill="#777" stroke="none"/>
<circle cx="956" cy="2127.7" r="4.6" fill="#000" stroke="none"/>
<circle cx="956" cy="2127.7" r="0.8" fill="#777" stroke="none"/>
<circle cx="970" cy="2135.7" r="4.6" fill="#000" stroke="none"/>
<circle cx="970" cy="2135.7" r="0.8" fill="#777" stroke="none"/>
<circle cx="984.1" cy="2143.7" r="4.6" fill="#000" stroke="none"/>
<circle cx="984.1" cy="2143.7" r="0.8" fill="#777" stroke="none"/>
<circle cx="998.1" cy="2151.7" r="4.6" fill="#000" stroke="none"/>
<circle cx="998.1" cy="2151.7" r="0.8" fill="#777" stroke="none"/>
<circle cx="1012.1" cy="2159.6" r="4.6" fill="#000" stroke="none"/>
<circle cx="1012.1" cy="2159.6" r="0.8" fill="#777" stroke="none"/>
<circle cx="1026.2" cy="2167.6" r="4.6" fill="#000" stroke="none"/>
<circle cx="1026.2" cy="2167.6" r="0.8" fill="#777" stroke="none"/>
<circle cx="1040.2" cy="2175.6" r="4.6" fill="#000" stroke="none"/>
<circle cx="1040.2" cy="2175.6" r="0.8" fill="#777" stroke="none"/>
<circle cx="1054.3" cy="2183.6" r="4.6" fill="#000" stroke="none"/>
<circle cx="1054.3" cy="2183.6" r="0.8" fill="#777" stroke="none"/>
<circle cx="1068.3" cy="2191.5" r="4.6" fill="#000" stroke="none"/>
<circle cx="1068.3" cy="2191.5" r="0.8" fill="#777" stroke="none"/>
<circle cx="1082.4" cy="2199.5" r="4.6" fill="#000" stroke="none"/>
<circle cx="1082.4" cy="2199.5" r="0.8" fill="#777" stroke="none"/>
<circle cx="1096.5" cy="2207.1" r="4.6" fill="#000" stroke="none"/>
<circle cx="1096.5" cy="2207.1" r="0.8" fill="#777" stroke="none"/>
<circle cx="1096.5" cy="2192.4" r="4.6" fill="#000" stroke="none"/>
<circle cx="1096.5" cy="2192.4" r="0.8" fill="#777" stroke="none"/>
<circle cx="1096.5" cy="2177.7" r="4.6" fill="#000" stroke="none"/>
<circle cx="1096.5" cy="2177.7" r="0.8" fill="#777" stroke="none"/>
<circle cx="1096.5" cy="2162.9" r="4.6" fill="#000" stroke="none"/>
<circle cx="1096.5" cy="2162.9" r="0.8" fill="#777" stroke="none"/>
<circle cx="1096.5" cy="2148.2" r="4.6" fill="#000" stroke="none"/>
<circle cx="1096.5" cy="2148.2" r="0.8" fill="#777" stroke="none"/>
<circle cx="1096.5" cy="2133.5" r="4.6" fill="#000" stroke="none"/>
<circle cx="1096.5" cy="2133.5" r="0.8" fill="#777" stroke="none"/>
<circle cx="1096.5" cy="2118.8" r="4.6" fill="#000" stroke="none"/>
<circle cx="1096.5" cy="2118.8" r="0.8" fill="#777" stroke="none"/>
<circle cx="1096.5" cy="2104.1" r="4.6" fill="#000" stroke="none"/>
<circle cx="1096.5" cy="2104.1" r="0.8" fill="#777" stroke="none"/>
<circle cx="1096.5" cy="2089.3" r="4.6" fill="#000" stroke="none"/>
<circle cx="1096.5" cy="2089.3" r="0.8" fill="#777" stroke="none"/>
<circle cx="1096.5" cy="2074.6" r="4.6" fill="#000" stroke="none"/>
<circle cx="1096.5" cy="2074.6" r="0.8" fill="#777" stroke="none"/>
<circle cx="1096.5" cy="2059.9" r="4.6" fill="#000" stroke="none"/>
<circle cx="1096.5" cy="2059.9" r="0.8" fill="#777" stroke="none"/>
<circle cx="1096.5" cy="2045.2" r="4.6" fill="#000" stroke="none"/>
<circle cx="1096.5" cy="2045.2" r="0.8" fill="#777" stroke="none"/>
<circle cx="1096.5" cy="2030.5" r="4.6" fill="#000" stroke="none"/>
<circle cx="1096.5" cy="2030.5" r="0.8" fill="#777" stroke="none"/>
<circle cx="1096.5" cy="2015.7" r="4.6" fill="#000" stroke="none"/>
<circle cx="1096.5" cy="2015.7" r="0.8" fill="#777" stroke="none"/>
<circle cx="399" cy="1595.6" r="4.6" fill="#000" stroke="none"/>
<circle cx="399" cy="1595.6" r="0.8" fill="#777" stroke="none"/>
<circle cx="408.3" cy="1590.3" r="4.6" fill="#000" stroke="none"/>
<circle cx="408.3" cy="1590.3" r="0.8" fill="#777" stroke="none"/>
<circle cx="417.7" cy="1584.5" r="4.6" fill="#000" stroke="none"/>
<circle cx="417.7" cy="1584.5" r="0.8" fill="#777" stroke="none"/>
<circle cx="1102.9" cy="2001.9" r="4.6" fill="#000" stroke="none"/>
<circle cx="1102.9" cy="2001.9" r="0.8" fill="#777" stroke="none"/>
<circle cx="1112.3" cy="1996.4" r="4.6" fill="#000" stroke="none"/>
<circle cx="1112.3" cy="1996.4" r="0.8" fill="#777" stroke="none"/>
<circle cx="1122.4" cy="1991" r="4.6" fill="#000" stroke="none"/>
<circle cx="1122.4" cy="1991" r="0.8" fill="#777" stroke="none"/>
<polyline points="402.4,1825.1 402.4,1846.7 441.8,1866.4 455.2,1859.2 455.2,1855.1"/>
<line x1="441.8" y1="1847.9" x2="441.8" y2="1866.4"/>
<polyline points="1069.4,2211 1069.4,2229.7 1108.2,2251.4 1123.3,2242.9 1123.3,2231.5"/>
<line x1="1108.2" y1="2236.5" x2="1108.2" y2="2251.4"/>
<polygon points="1084.3,1937.3 1097.2,1956.9 1076.4,1959.4" fill="#000" stroke="none"/>
<line x1="2132.9" y1="870" x2="2132.9" y2="1680"/>
<polygon points="2132.9,854.2 2145.4,874.7 2120.4,874.7" fill="#000" stroke="none"/>
<polygon points="2132.9,1697.7 2120.4,1677.2 2145.4,1677.2" fill="#000" stroke="none"/>
<line x1="1876" y1="1445" x2="1876" y2="1600"/>
<polygon points="1876,1429.9 1888.5,1450.4 1863.5,1450.4" fill="#000" stroke="none"/>
<polygon points="1876,1618 1863.5,1597.5 1888.5,1597.5" fill="#000" stroke="none"/>
<line x1="1324.3" y1="1615" x2="1324.3" y2="1680"/>
<polygon points="1324.3,1603.4 1336.8,1623.9 1311.8,1623.9" fill="#000" stroke="none"/>
<polygon points="1324.3,1694.5 1311.8,1674 1336.8,1674" fill="#000" stroke="none"/>
<line x1="601.2" y1="1600" x2="601.2" y2="1625"/>
<polygon points="601.2,1587 613.5,1604.6 588.9,1604.6" fill="#000" stroke="none"/>
<polygon points="601.2,1637.3 588.9,1619.7 613.5,1619.7" fill="#000" stroke="none"/>
<line x1="354.8" y1="1610" x2="354.8" y2="1825"/>
<polygon points="354.8,1594.8 367.3,1615.3 342.3,1615.3" fill="#000" stroke="none"/>
<polygon points="354.8,1842.4 342.3,1821.9 367.3,1821.9" fill="#000" stroke="none"/>
<line x1="1155.1" y1="2218" x2="1155.1" y2="2232" stroke-width="2.5"/>
<polygon points="1155.1,2211.8 1162.1,2220.8 1148.1,2220.8" fill="#000" stroke="none"/>
<polygon points="1155.1,2238.2 1148.1,2229.2 1162.1,2229.2" fill="#000" stroke="none"/>
<line x1="776.1" y1="1179.7" x2="1085.9" y2="1433.6"/>
<polygon points="1077.5,1425 1054.6,1417.1 1073.2,1403.5" fill="#000" stroke="none"/>
<line x1="460" y1="2281.5" x2="1046" y2="2281.5"/>
<polygon points="442.4,2281.5 462.9,2269 462.9,2294" fill="#000" stroke="none"/>
<polygon points="1064.3,2281.5 1043.8,2294 1043.8,2269" fill="#000" stroke="none"/>
<line x1="1145" y1="2284" x2="1980" y2="2284"/>
<polygon points="1126.4,2284 1146.9,2271.5 1146.9,2296.5" fill="#000" stroke="none"/>
<polygon points="1997.5,2284 1977,2296.5 1977,2271.5" fill="#000" stroke="none"/>
<line x1="400" y1="2389.6" x2="1090" y2="2389.6"/>
<polygon points="381.8,2389.6 402.3,2377.1 402.3,2402.1" fill="#000" stroke="none"/>
<polygon points="1107.5,2389.6 1087,2402.1 1087,2377.1" fill="#000" stroke="none"/>
<line x1="1127" y1="2384.8" x2="2077" y2="2384.8"/>
<polygon points="1109,2384.8 1129.5,2372.3 1129.5,2397.3" fill="#000" stroke="none"/>
<polygon points="2094.7,2384.8 2074.2,2397.3 2074.2,2372.3" fill="#000" stroke="none"/>
<line x1="382.1" y1="1815.1" x2="382.1" y2="1854.9"/>
<line x1="382.1" y1="1878.5" x2="382.1" y2="1918.4"/>
<line x1="382.1" y1="1942" x2="382.1" y2="1981.8"/>
<line x1="382.1" y1="2005.5" x2="382.1" y2="2045.3"/>
<line x1="382.1" y1="2068.9" x2="382.1" y2="2108.7"/>
<line x1="382.1" y1="2132.3" x2="382.1" y2="2172.2"/>
<line x1="382.1" y1="2195.8" x2="382.1" y2="2235.6"/>
<line x1="382.1" y1="2259.2" x2="382.1" y2="2299"/>
<line x1="382.1" y1="2322.7" x2="382.1" y2="2362.5"/>
<line x1="382.1" y1="2386.1" x2="382.1" y2="2425.9"/>
<line x1="441.7" y1="1849.2" x2="441.7" y2="1889.5"/>
<line x1="441.7" y1="1912.4" x2="441.7" y2="1952.7"/>
<line x1="441.7" y1="1975.6" x2="441.7" y2="2015.9"/>
<line x1="441.7" y1="2038.8" x2="441.7" y2="2079.1"/>
<line x1="441.7" y1="2102" x2="441.7" y2="2142.3"/>
<line x1="441.7" y1="2165.2" x2="441.7" y2="2205.5"/>
<line x1="441.7" y1="2228.4" x2="441.7" y2="2250.4"/>
<line x1="441.7" y1="2271.2" x2="441.7" y2="2306"/>
<line x1="1068.9" y1="2230.6" x2="1068.9" y2="2259.4"/>
<line x1="1068.9" y1="2274.4" x2="1068.9" y2="2302.4"/>
<line x1="1108.2" y1="2236.6" x2="1108.2" y2="2292.9"/>
<line x1="1108.2" y1="2315.3" x2="1108.2" y2="2357.1"/>
<line x1="1108.2" y1="2376.3" x2="1108.2" y2="2418.1"/>
<line x1="1123.5" y1="2244.6" x2="1123.5" y2="2276.8"/>
<line x1="1123.5" y1="2284.8" x2="1123.5" y2="2312.9"/>
<line x1="1139.5" y1="2231.1" x2="1139.5" y2="2249.5"/>
<line x1="1998.2" y1="1752.1" x2="1998.2" y2="1797.4"/>
<line x1="1998.2" y1="1821.9" x2="1998.2" y2="1859.5"/>
<line x1="1998.2" y1="1884.1" x2="1998.2" y2="1923.6"/>
<line x1="1998.2" y1="1948.1" x2="1998.2" y2="1987.6"/>
<line x1="1998.2" y1="2012.2" x2="1998.2" y2="2051.7"/>
<line x1="1998.2" y1="2074.3" x2="1998.2" y2="2115.7"/>
<line x1="1998.2" y1="2138.3" x2="1998.2" y2="2177.8"/>
<line x1="1998.2" y1="2202.4" x2="1998.2" y2="2247.7"/>
<line x1="1998.2" y1="2264.5" x2="1998.2" y2="2304"/>
<line x1="2096.8" y1="1701.6" x2="2096.8" y2="1739.2"/>
<line x1="2096.8" y1="1763.7" x2="2096.8" y2="1803.2"/>
<line x1="2096.8" y1="1827.8" x2="2096.8" y2="1867.3"/>
<line x1="2096.8" y1="1891.8" x2="2096.8" y2="1931.3"/>
<line x1="2096.8" y1="1955.9" x2="2096.8" y2="1995.4"/>
<line x1="2096.8" y1="2018" x2="2096.8" y2="2057.5"/>
<line x1="2096.8" y1="2082" x2="2096.8" y2="2121.5"/>
<line x1="2096.8" y1="2146.1" x2="2096.8" y2="2183.6"/>
<line x1="2096.8" y1="2208.2" x2="2096.8" y2="2247.7"/>
<line x1="2096.8" y1="2272.2" x2="2096.8" y2="2311.8"/>
<line x1="2096.8" y1="2338.2" x2="2096.8" y2="2377.7"/>
<line x1="2096.8" y1="2404.2" x2="2096.8" y2="2444.2"/>
</g>
<text transform="translate(851.53,88.3) scale(0.9435,0.96)" font-size="55">Inner Size: 61.00"W X 81.00"D</text>
<text transform="translate(689.72,1162.6) scale(0.9413,0.9543)" font-size="50">61.00"</text>
<text transform="translate(1568.02,1368.0) scale(0.9413,0.9457)" font-size="50">61.00"</text>
<text transform="translate(2151.42,1323.2) scale(0.9406,0.9486)" font-size="50">65.25"</text>
<text transform="translate(1724.58,1533.4) scale(0.9387,0.9543)" font-size="50">16.00"</text>
<text transform="translate(1191.41,1670.9) scale(0.9457,0.9343)" font-size="50">8.00"</text>
<text transform="translate(201.29,1741.3) scale(0.9359,0.9486)" font-size="50">19.75"</text>
<text transform="translate(1165.81,2236.0) scale(0.9466,0.9343)" font-size="50">2.00"</text>
<text transform="translate(679.32,2265.2) scale(0.9378,0.96)" font-size="50">51.50"</text>
<text transform="translate(1536.72,2269.4) scale(0.9385,0.9371)" font-size="50">77.00"</text>
<text transform="translate(679.32,2371.8) scale(0.9413,0.96)" font-size="50">65.00"</text>
<text transform="translate(1534.71,2367.7) scale(0.9462,0.9257)" font-size="50">88.00"</text>
<rect x="1158.64" y="81.96" width="10.51" height="7.13" fill="#fff"/>
<rect x="1176.31" y="81.96" width="10.09" height="7.13" fill="#fff"/>
<rect x="1425.42" y="81.96" width="10.51" height="7.13" fill="#fff"/>
<rect x="1443.09" y="81.96" width="10.09" height="7.13" fill="#fff"/>
<rect x="717.29" y="1156.87" width="9.53" height="6.44" fill="#fff"/>
<rect x="733.32" y="1156.87" width="9.15" height="6.44" fill="#fff"/>
<rect x="1595.59" y="1362.33" width="9.53" height="6.38" fill="#fff"/>
<rect x="1611.62" y="1362.33" width="9.15" height="6.38" fill="#fff"/>
<rect x="1725.99" y="1527.67" width="9.5" height="6.44" fill="#fff"/>
<rect x="1741.97" y="1527.67" width="9.13" height="6.44" fill="#fff"/>
<rect x="202.69" y="1735.61" width="9.48" height="6.4" fill="#fff"/>
<rect x="218.63" y="1735.61" width="9.1" height="6.4" fill="#fff"/>
<rect x="706.79" y="2259.44" width="9.5" height="6.48" fill="#fff"/>
<rect x="722.76" y="2259.44" width="9.12" height="6.48" fill="#fff"/>
</svg>
</body></html>
